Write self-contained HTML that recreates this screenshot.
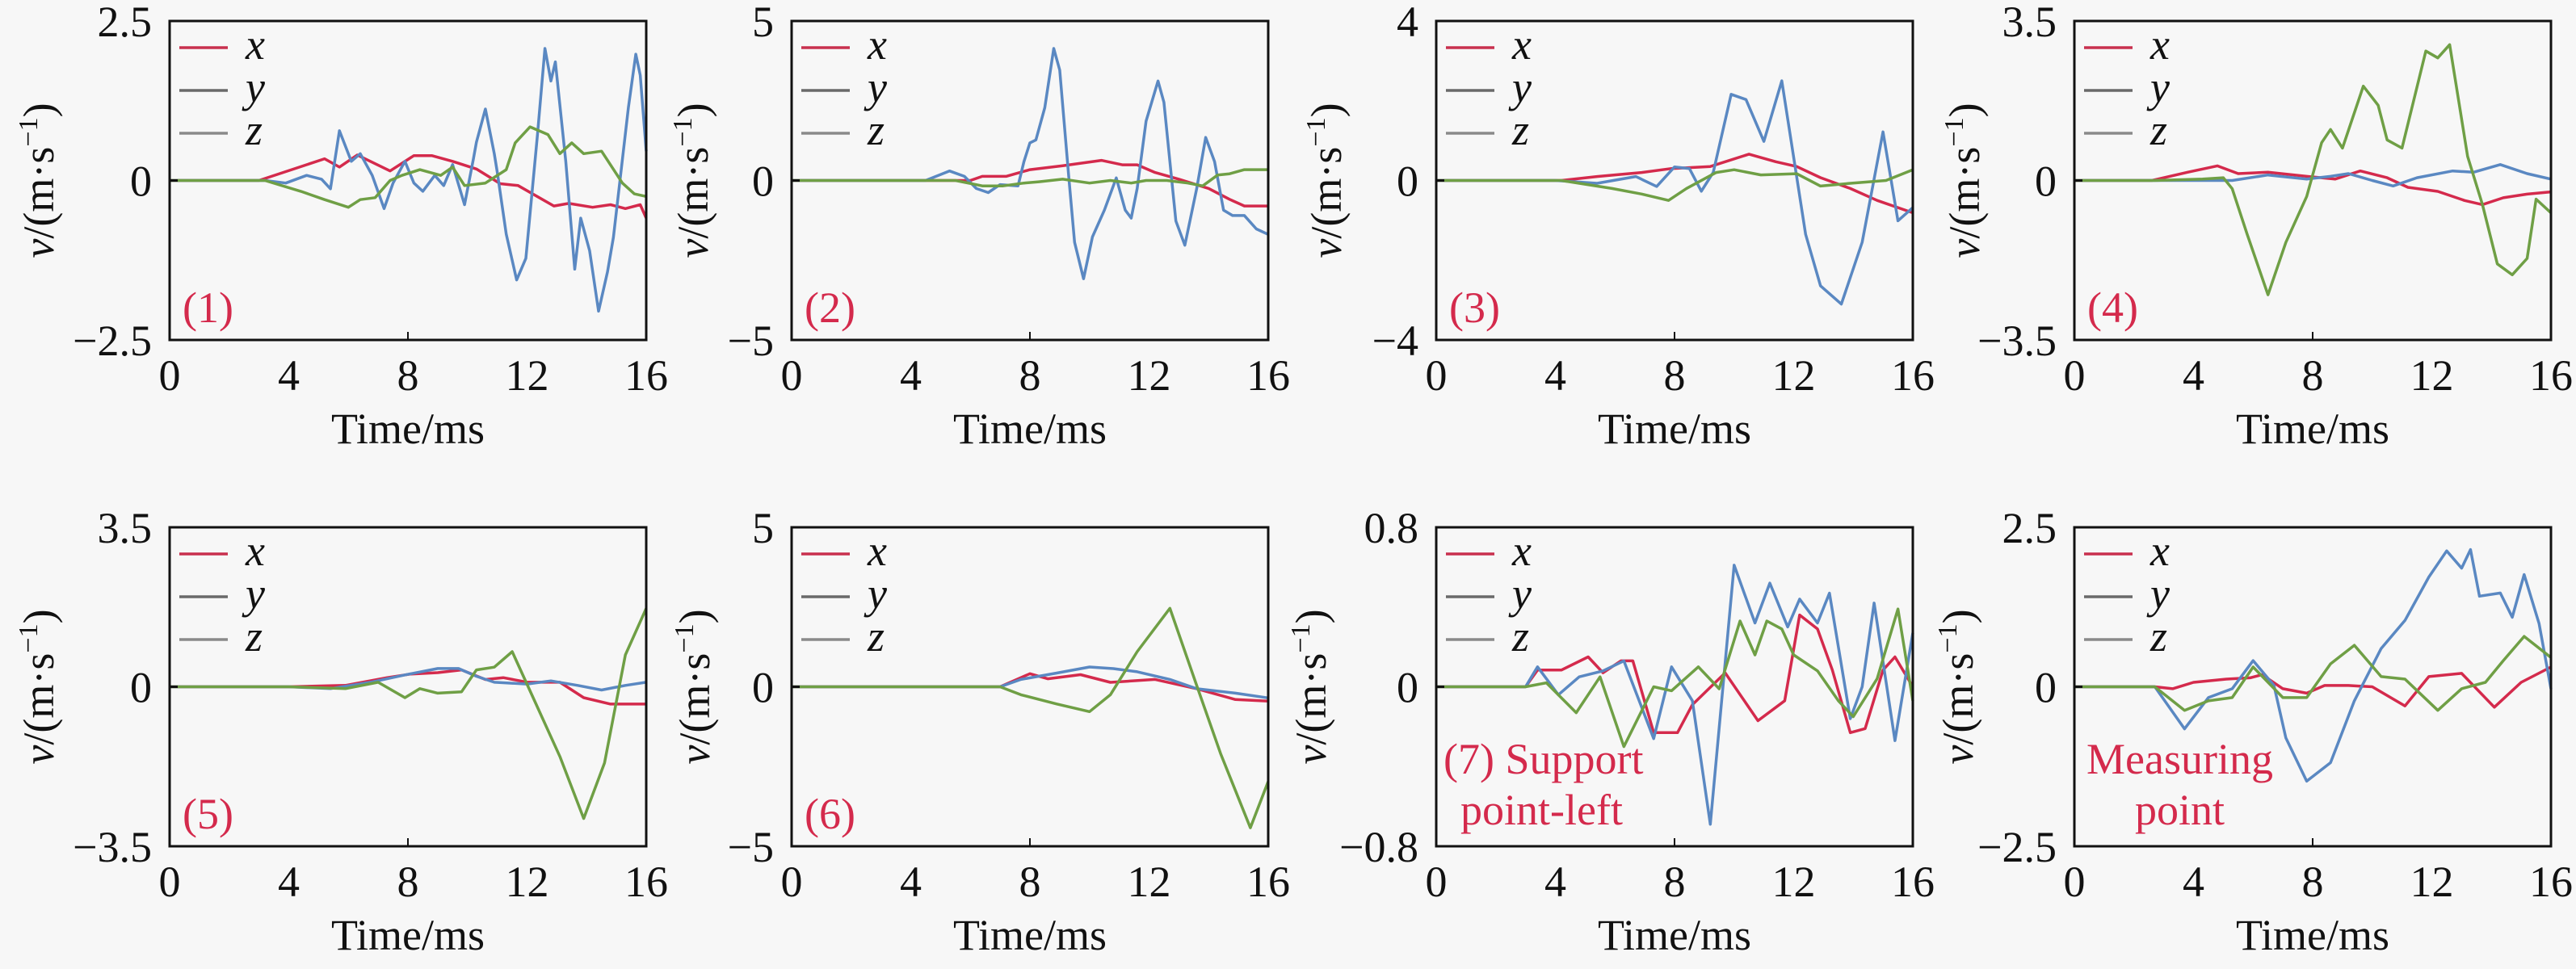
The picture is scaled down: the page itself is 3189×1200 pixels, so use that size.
<!DOCTYPE html>
<html><head><meta charset="utf-8"><style>
html,body{margin:0;padding:0;background:#f7f7f7;}
svg{display:block;}
text{font-family:"Liberation Serif","Times New Roman","DejaVu Serif",serif;}
</style></head><body>
<svg id="fig" width="3189" height="1200" viewBox="0 0 3189 1200" xmlns="http://www.w3.org/2000/svg">
<rect x="0" y="0" width="3189" height="1200" fill="#f7f7f7"/>
</svg>
<script>
// ---------- data ----------
const xTicks = [0, 4, 8, 12, 16];
const yMax = [2.5, 5, 4, 3.5, 3.5, 5, 0.8, 2.5];
const yTopLabels = ["2.5", "5", "4", "3.5", "3.5", "5", "0.8", "2.5"];
const yBotLabels = ["\u22122.5", "\u22125", "\u22124", "\u22123.5", "\u22123.5", "\u22125", "\u22120.8", "\u22122.5"];
const panelLabels = [["(1)"], ["(2)"], ["(3)"], ["(4)"], ["(5)"], ["(6)"], ["(7) Support", "point-left"], ["Measuring", "point"]];

// panel 1
const p1_x_t = [0,3,5.2,5.7,6.3,7.4,8.2,8.8,9.5,10.3,11.1,11.7,12.9,13.4,14.2,14.8,15.3,15.8,16];
const p1_x_v = [0,0,0.34,0.21,0.4,0.15,0.39,0.39,0.3,0.18,-0.05,-0.08,-0.4,-0.36,-0.42,-0.38,-0.44,-0.38,-0.59];
const p1_y_t = [0,3.2,3.9,4.6,5.1,5.4,5.7,6.1,6.4,6.8,7.2,7.5,7.9,8.2,8.5,8.9,9.2,9.5,9.9,10.2,10.3,10.6,10.9,11,11.3,11.65,11.96,12.35,12.6,12.8,12.95,13.3,13.6,13.8,14.1,14.4,14.7,14.9,15.4,15.65,15.8,16];
const p1_y_v = [0,0,-0.04,0.08,0.02,-0.13,0.78,0.3,0.42,0.08,-0.44,-0.04,0.3,-0.04,-0.17,0.08,-0.08,0.25,-0.38,0.34,0.6,1.12,0.42,0.13,-0.84,-1.56,-1.22,0.72,2.07,1.56,1.86,0.3,-1.39,-0.59,-1.1,-2.05,-1.43,-0.89,1.14,1.98,1.65,0.46];
const p1_z_t = [0,3.2,4.4,5.2,6.0,6.4,6.9,7.4,7.8,8.4,9.1,9.5,9.9,10.6,11.3,11.6,12.1,12.7,13.1,13.5,13.9,14.5,15.2,15.6,16];
const p1_z_v = [0,0,-0.17,-0.3,-0.42,-0.3,-0.27,0,0.08,0.17,0.08,0.21,-0.08,-0.04,0.17,0.59,0.84,0.72,0.42,0.59,0.42,0.46,-0.04,-0.21,-0.25];
// panel 2
const p2_x_t = [0,6,6.4,7.2,8,9.1,10.4,11.1,11.6,12.2,13,14,14.7,15.2,16];
const p2_x_v = [0,0,0.13,0.13,0.34,0.46,0.63,0.49,0.49,0.25,0.04,-0.25,-0.59,-0.8,-0.8];
const p2_y_t = [0,4.5,5.3,5.8,6.2,6.6,7,7.6,7.8,8,8.2,8.5,8.8,9,9.3,9.5,9.8,10.1,10.5,10.9,11.2,11.4,11.6,11.9,12.3,12.5,12.9,13.2,13.6,13.9,14.2,14.5,14.8,15.2,15.6,16];
const p2_y_v = [0,0,0.3,0.13,-0.25,-0.38,-0.13,-0.17,0.59,1.18,1.27,2.28,4.14,3.46,0.17,-1.94,-3.08,-1.77,-0.93,0.08,-0.93,-1.18,-0.25,1.86,3.12,2.45,-1.27,-2.03,-0.25,1.35,0.59,-0.93,-1.1,-1.1,-1.52,-1.69];
const p2_z_t = [0,5.5,6.4,7.1,7.8,8.3,9.1,10,10.7,11.4,11.9,12.6,13.3,13.8,14.3,14.7,15.2,16];
const p2_z_v = [0,0,-0.17,-0.17,-0.08,-0.04,0.04,-0.08,0,-0.08,0,0,-0.08,-0.17,0.17,0.21,0.34,0.34];
// panel 3
const p3_x_t = [0,4.2,5.4,6.9,7.9,9.2,10.5,11.4,12.1,12.9,13.9,14.8,16];
const p3_x_v = [0,0,0.1,0.2,0.3,0.35,0.66,0.47,0.35,0.07,-0.2,-0.5,-0.81];
const p3_y_t = [0,4,5.4,6.7,7.4,8,8.5,8.9,9.3,9.9,10.4,11,11.6,12.4,12.9,13.6,14.3,15,15.5,16];
const p3_y_v = [0,0,-0.07,0.1,-0.15,0.34,0.3,-0.27,0.2,2.16,2.03,0.98,2.5,-1.35,-2.64,-3.1,-1.55,1.22,-1.01,-0.68];
const p3_z_t = [0,4.2,5.9,6.9,7.8,8.4,9.4,10,10.9,12.1,12.9,13.9,15.1,16];
const p3_z_v = [0,0,-0.2,-0.34,-0.5,-0.2,0.2,0.27,0.14,0.17,-0.14,-0.07,0,0.27];
// panel 4
const p4_x_t = [0,2.6,3.8,4.8,5.5,6.5,7.8,8.75,9.6,10.5,11.2,12.2,13.1,13.7,14.4,15.2,16];
const p4_x_v = [0,0,0.18,0.32,0.15,0.18,0.09,0.03,0.21,0.06,-0.15,-0.24,-0.44,-0.53,-0.38,-0.3,-0.25];
const p4_y_t = [0,2.6,5.3,6.5,7.8,8.6,9.2,10,10.7,11.5,12.7,13.4,14.3,15.2,16];
const p4_y_v = [0,0,0,0.12,0.03,0.09,0.15,0,-0.12,0.06,0.21,0.18,0.35,0.15,0.03];
const p4_z_t = [0,2.7,4.3,5,5.3,5.8,6.5,7.1,7.8,8.3,8.6,9,9.7,10.2,10.5,11,11.8,12.2,12.6,13.2,13.7,14.2,14.7,15.2,15.5,16];
const p4_z_v = [0,0,0.03,0.06,-0.18,-1.18,-2.51,-1.36,-0.35,0.83,1.12,0.71,2.07,1.65,0.89,0.71,2.84,2.69,2.98,0.53,-0.53,-1.83,-2.07,-1.71,-0.41,-0.71];
// panel 5
const p5_x_t = [0,4,5.9,7.3,8.1,9,9.8,10.6,11.2,12,13.1,13.9,14.8,16];
const p5_x_v = [0,0,0.03,0.2,0.28,0.31,0.37,0.16,0.2,0.1,0.1,-0.24,-0.38,-0.38];
const p5_y_t = [0,4,5.4,6.75,7.9,9,9.7,10.3,10.9,12,12.8,13.7,14.5,15.3,16];
const p5_y_v = [0,0,-0.04,0.1,0.26,0.4,0.4,0.23,0.1,0.06,0.13,0.03,-0.07,0.03,0.1];
const p5_z_t = [0,4,5.9,7,7.9,8.4,9,9.8,10.3,10.9,11.5,12.3,13.1,13.9,14.6,15.3,16];
const p5_z_v = [0,0,-0.04,0.1,-0.24,-0.04,-0.14,-0.11,0.37,0.43,0.77,-0.38,-1.53,-2.89,-1.67,0.7,1.72];
// panel 6
const p6_x_t = [0,7,8,8.6,9.7,10.7,12.2,13.6,14.9,16];
const p6_x_v = [0,0,0.41,0.25,0.38,0.14,0.23,-0.06,-0.4,-0.45];
const p6_y_t = [0,7,7.7,8.9,10,10.8,11.6,12.7,13.6,14.9,16];
const p6_y_v = [0,0,0.23,0.43,0.62,0.57,0.47,0.23,-0.06,-0.2,-0.35];
const p6_z_t = [0,7,7.7,8.9,10,10.7,11.6,12.7,13.6,14.4,15.4,16];
const p6_z_v = [0,0,-0.25,-0.54,-0.78,-0.25,1.1,2.46,0.04,-2.09,-4.42,-2.97];
// panel 7
const p7_x_t = [0,3,3.4,4.2,5.1,5.6,6.2,6.6,7.3,8.1,8.6,9.7,10.8,11.7,12.2,12.8,13.3,13.9,14.4,15,15.4,16];
const p7_x_v = [0,0,0.084,0.084,0.15,0.07,0.13,0.13,-0.23,-0.23,-0.09,0.07,-0.17,-0.07,0.36,0.29,0.084,-0.23,-0.21,0.084,0.15,0];
const p7_y_t = [0,3,3.4,4.1,4.8,5.6,6.3,7.3,7.9,8.6,9.2,10,10.7,11.2,11.8,12.2,12.8,13.2,13.9,14.3,14.7,15.4,16];
const p7_y_v = [0,0,0.1,-0.04,0.05,0.08,0.13,-0.26,0.1,-0.07,-0.69,0.61,0.32,0.52,0.3,0.44,0.32,0.47,-0.16,0,0.42,-0.27,0.27];
const p7_z_t = [0,3,3.7,4.7,5.5,6.3,7.3,7.9,8.8,9.5,10.2,10.7,11.1,11.6,12,12.8,13.5,14,14.8,15.5,16];
const p7_z_v = [0,0,0.02,-0.13,0.05,-0.3,0,-0.02,0.1,-0.01,0.33,0.16,0.33,0.29,0.16,0.08,-0.07,-0.15,0.04,0.39,-0.07];
// panel 8
const p8_x_t = [0,2.7,3.3,4,5.1,5.9,6.3,7,7.8,8.4,9.2,10,11.1,11.9,13,14.1,15,16];
const p8_x_v = [0,0,-0.03,0.07,0.12,0.14,0.19,-0.03,-0.1,0.02,0.02,0,-0.3,0.16,0.21,-0.32,0.07,0.31];
const p8_y_t = [0,2.7,3.7,4.5,5.3,6,6.7,7.1,7.8,8.6,9.4,10.3,11.1,11.9,12.5,13,13.3,13.6,14.3,14.7,15.1,15.6,16];
const p8_y_v = [0,0,-0.66,-0.17,-0.03,0.41,0.02,-0.8,-1.48,-1.19,-0.22,0.6,1.04,1.72,2.13,1.86,2.15,1.42,1.47,1.09,1.76,0.99,-0.03];
const p8_z_t = [0,2.7,3.7,4.5,5.3,6,7,7.8,8.6,9.4,10.3,11.1,12.2,13,13.8,14.4,15.1,16];
const p8_z_v = [0,0,-0.37,-0.22,-0.17,0.31,-0.17,-0.17,0.36,0.65,0.16,0.12,-0.37,-0.03,0.07,0.41,0.79,0.46];

const seriesT = [[p1_x_t,p1_y_t,p1_z_t],[p2_x_t,p2_y_t,p2_z_t],[p3_x_t,p3_y_t,p3_z_t],[p4_x_t,p4_y_t,p4_z_t],[p5_x_t,p5_y_t,p5_z_t],[p6_x_t,p6_y_t,p6_z_t],[p7_x_t,p7_y_t,p7_z_t],[p8_x_t,p8_y_t,p8_z_t]];
const seriesV = [[p1_x_v,p1_y_v,p1_z_v],[p2_x_v,p2_y_v,p2_z_v],[p3_x_v,p3_y_v,p3_z_v],[p4_x_v,p4_y_v,p4_z_v],[p5_x_v,p5_y_v,p5_z_v],[p6_x_v,p6_y_v,p6_z_v],[p7_x_v,p7_y_v,p7_z_v],[p8_x_v,p8_y_v,p8_z_v]];
const seriesNames = ["x", "y", "z"];

// ---------- layout ----------
const NS = "http://www.w3.org/2000/svg";
const svg = document.getElementById("fig");
const lefts = [210, 980, 1778, 2568];
const tops = [26, 653];
const W = 590, H = 395;
const ylabOff = [160, 120, 134, 134, 160, 118, 153, 142];
const curveColors = ["#d42a4c", "#5a88c2", "#6f9f45"];
const legendColors = ["#c8304e", "#6a6a6a", "#8a8a8a"];
const FONT = '"Liberation Serif", "Times New Roman", "DejaVu Serif", serif';

function mk(tag, attrs, parent) {
  const e = document.createElementNS(NS, tag);
  for (const k in attrs) e.setAttribute(k, attrs[k]);
  (parent || svg).appendChild(e);
  return e;
}
function txt(attrs, parent, color) {
  attrs["font-family"] = FONT;
  const e = mk("text", attrs, parent);
  e.style.fill = color || "#111";
  e.style.fontFamily = FONT;
  return e;
}

for (let p = 0; p < 8; p++) {
  const L = lefts[p % 4], T = tops[Math.floor(p / 4)], B = T + H;
  const ym = yMax[p];
  const sx = t => L + t / 16 * W;
  const sy = v => T + (ym - v) / (2 * ym) * H;
  const g = mk("g", {});
  
  

  for (let s = 0; s < 3; s++) {
    const ts = seriesT[p][s], vs = seriesV[p][s];
    const pts = ts.map((t, i) => sx(t).toFixed(1) + "," + sy(vs[i]).toFixed(1)).join(" ");
    const pl = mk("polyline", {points: pts, fill: "none", stroke: curveColors[s], "stroke-width": 3.5, "stroke-linejoin": "round"}, g);
    
    
  }
  const fr = mk("rect", {x: L, y: T, width: W, height: H, fill: "none", stroke: "#111", "stroke-width": 3}, g);
  
  
  mk("line", {x1: sx(8), y1: B, x2: sx(8), y2: B - 10, stroke: "#111", "stroke-width": 2}, g);
  mk("line", {x1: L, y1: sy(0), x2: L + 10, y2: sy(0), stroke: "#111", "stroke-width": 3}, g);

  xTicks.forEach(t => {
    const tx = txt({x: sx(t), y: B + 62, "text-anchor": "middle", "font-size": 54}, g);
    
    
    tx.textContent = String(t);
  });
  const xt = txt({x: L + W / 2, y: B + 128, "text-anchor": "middle", "font-size": 54}, g);
  
  
  xt.textContent = "Time/ms";

  [[yTopLabels[p], T], ["0", sy(0)], [yBotLabels[p], B]].forEach(([lab, y]) => {
    const ty = txt({x: L - 22, y: y + 19, "text-anchor": "end", "font-size": 54}, g);
    
    
    ty.textContent = lab;
  });
  const cx = L - ylabOff[p], cy = T + H / 2;
  const yt = txt({x: cx, y: cy + 16, "text-anchor": "middle", "font-size": 54, transform: "rotate(-90 " + cx + " " + cy + ")"}, g);
  
  
  const t1 = mk("tspan", {"font-style": "italic"}, yt); t1.textContent = "v";
  const t2 = mk("tspan", {}, yt); t2.textContent = "/(m\u00b7s";
  const t3 = mk("tspan", {dy: -20, "font-size": 34}, yt); t3.textContent = "\u22121";
  const t4 = mk("tspan", {dy: 20}, yt); t4.textContent = ")";

  for (let s = 0; s < 3; s++) {
    const ly = T + 33 + s * 53;
    const lg = mk("g", {}, g);
    
    
    mk("line", {x1: L + 12, y1: ly, x2: L + 72, y2: ly, stroke: legendColors[s], "stroke-width": 3.5}, lg);
    const lt = txt({x: L + 94, y: ly + 14, "font-size": 54, "font-style": "italic"}, lg);
    lt.textContent = seriesNames[s];
  }

  const lines = panelLabels[p];
  const pg = mk("g", {}, g);
  
  
  const RED = "#d42a4c";
  if (lines.length === 1) {
    const pt = txt({x: L + 16, y: B - 22, "font-size": 54}, pg, RED);
    pt.textContent = lines[0];
  } else if (p === 6) {
    const a = txt({x: L + 9, y: B - 90, "font-size": 54}, pg, RED); a.textContent = lines[0];
    const b = txt({x: L + 30, y: B - 27, "font-size": 54}, pg, RED); b.textContent = lines[1];
  } else {
    const a = txt({x: L + 15, y: B - 90, "font-size": 54}, pg, RED); a.textContent = lines[0];
    const b = txt({x: L + 75, y: B - 27, "font-size": 54}, pg, RED); b.textContent = lines[1];
  }
}
</script>
</body></html>
